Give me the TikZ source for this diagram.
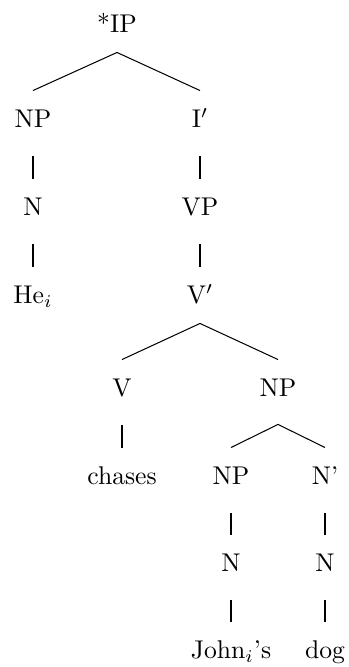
\documentclass[tikz,border=0pt]{standalone}

\tikzset{
  cat/.style={inner sep=0pt, text height=7pt, text depth=0pt, minimum height=21.8pt},
  unary/.style={shorten <=3.5pt}
}

\begin{document}
\begin{tikzpicture}[x=0.39pt,y=-0.39pt]
\useasboundingbox (0,0) rectangle (349,667);
% categories and words
\node[cat] (ip) at (117,24) {*IP};
\node[cat] (np) at (33,119) {NP};
\node[cat] (ibar) at (200,119) {I$'$};
\node[cat] (n) at (33,207) {N};
\node[cat] (vp) at (200,207) {VP};
\node[cat] (he) at (33,295) {He$_i$};
\node[cat] (vbar) at (200,295) {V$'$};
\node[cat] (v) at (122,388) {V};
\node[cat] (obj) at (278,388) {NP};
\node[cat] (chases) at (122,476) {chases};
\node[cat] (poss) at (231,476) {NP};
\node[cat] (nbar) at (325,476) {N'};
\node[cat] (pn) at (231,563) {N};
\node[cat] (cn) at (325,563) {N};
\node[cat] (john) at (231,650) {John$_i$'s};
\node[cat] (dog) at (325,650) {dog};
% branches
\draw (ip.south) -- (np.north);
\draw (ip.south) -- (ibar.north);
\draw[unary] (np.south) -- (n.north);
\draw[unary] (n.south) -- (he.north);
\draw[unary] (ibar.south) -- (vp.north);
\draw[unary] (vp.south) -- (vbar.north);
\draw (vbar.south) -- (v.north);
\draw (vbar.south) -- (obj.north);
\draw[unary] (v.south) -- (chases.north);
\draw ([yshift=-3.1pt]obj.south) -- (poss.north);
\draw ([yshift=-3.1pt]obj.south) -- (nbar.north);
\draw[unary] (poss.south) -- (pn.north);
\draw[unary] (pn.south) -- (john.north);
\draw[unary] (nbar.south) -- (cn.north);
\draw[unary] (cn.south) -- (dog.north);
\end{tikzpicture}
\end{document}
